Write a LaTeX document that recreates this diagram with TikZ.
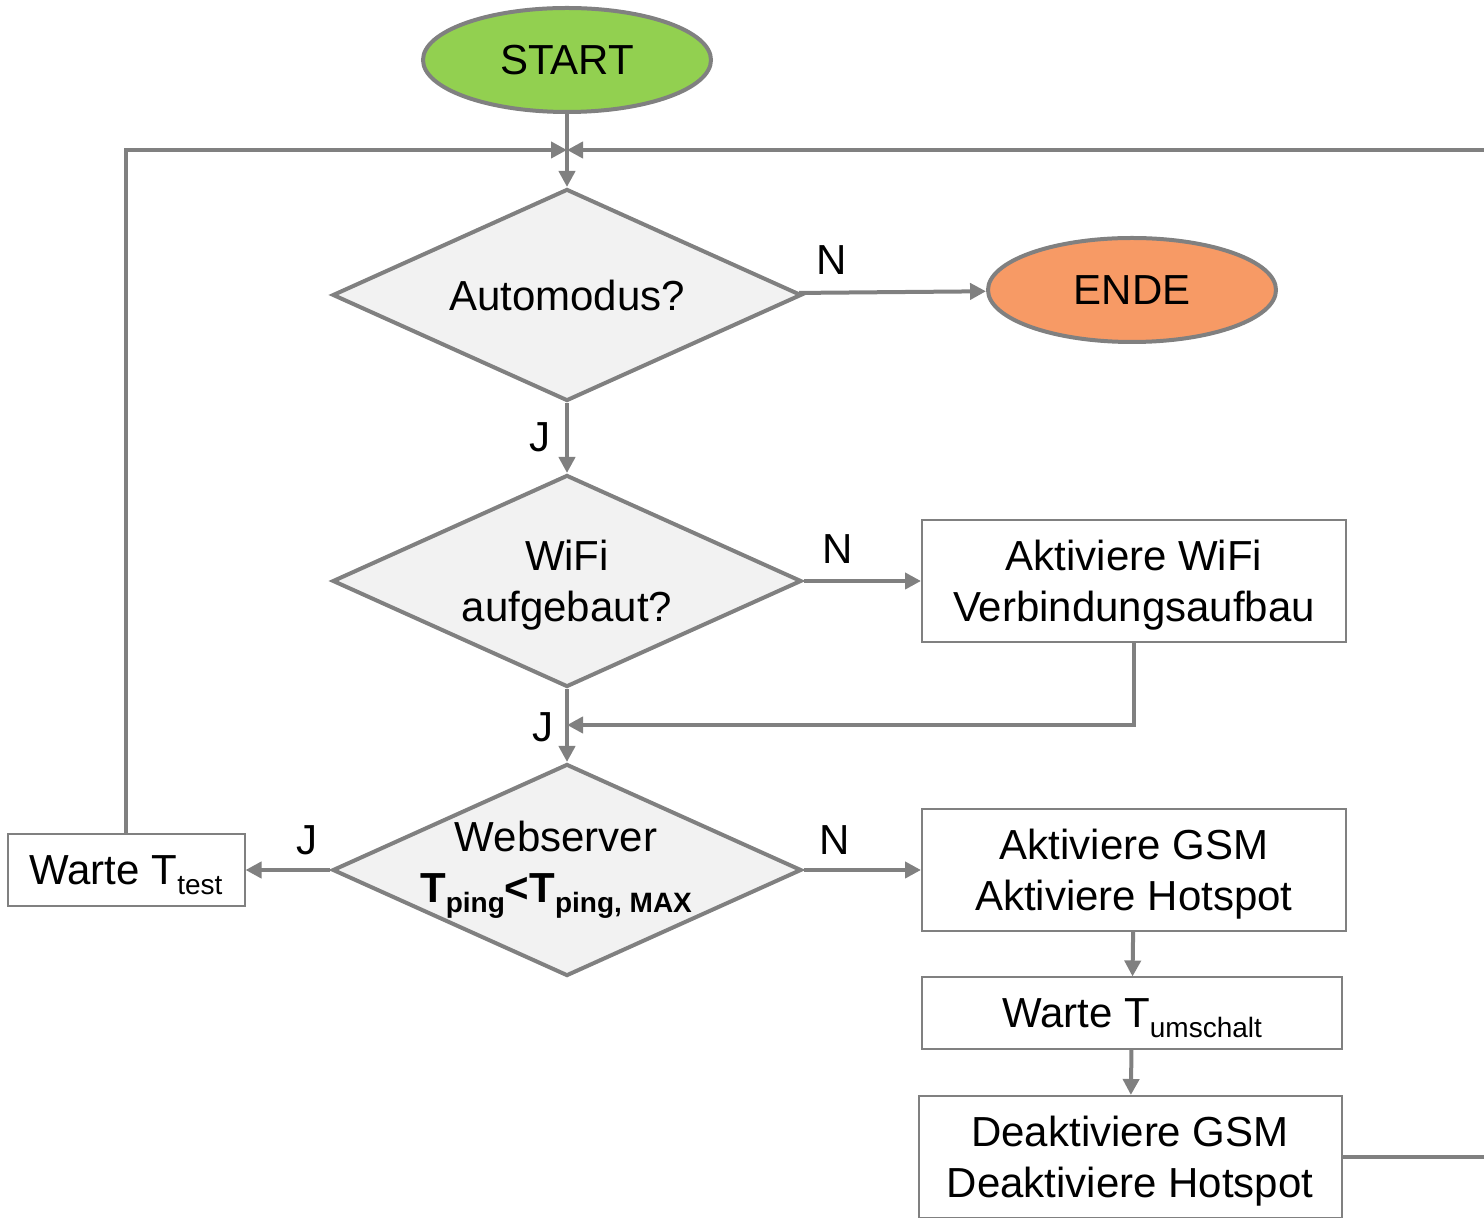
\documentclass[tikz,border=0pt]{standalone}
\usepackage{fontspec}
\setmainfont{Liberation Sans}
\usetikzlibrary{shapes.geometric, arrows.meta}
\definecolor{linegray}{RGB}{128,128,128}
\definecolor{startgreen}{RGB}{146,208,80}
\definecolor{endeorange}{RGB}{247,154,101}
\definecolor{decfill}{RGB}{242,242,242}
\newcommand{\fsz}{\fontsize{21}{25.5}\selectfont}
\newcommand{\idx}[1]{\raisebox{-5pt}{\fontsize{14}{14}\selectfont #1}}
\tikzstyle{startstop} = [ellipse, minimum width=144pt, minimum height=52pt, text centered, draw=linegray, line width=2pt, font=\fsz]
\tikzstyle{process} = [rectangle, minimum width=212pt, minimum height=61pt, text centered, text depth=0pt, align=center, draw=linegray, line width=1pt, font=\fsz]
\tikzstyle{decision} = [diamond, aspect=2.21, minimum width=234.5pt, minimum height=106pt, inner sep=0pt, text centered, align=center, draw=linegray, fill=decfill, line width=2pt, font=\fsz]
\tikzstyle{lbl} = [font=\fsz, inner sep=0pt]
\tikzstyle{arrow} = [line width=2pt, draw=linegray, -{Triangle[length=8pt,width=8pt]}]

\begin{document}
\begin{tikzpicture}[x=0.5pt, y=-0.5pt]
\useasboundingbox (0,0) rectangle (1484,1218);
\clip (0,0) rectangle (1484,1218);

\node (start) [startstop, fill=startgreen] at (567,60) {START};
\node (auto) [decision] at (567,295) {Automodus?};
\node (ende) [startstop, fill=endeorange] at (1132,290) {ENDE};
\node (wifi) [decision, text depth=0pt] at (567,581) {WiFi\\aufgebaut?};
\node (wifiauf) [process] at (1134,581) {Aktiviere WiFi\\Verbindungsaufbau};
\node (web) [decision, inner xsep=-18pt] at (567,870) {Webserver\hspace*{11pt}\\\textbf{T\idx{ping}<T\idx{ping, MAX}}\hspace*{11pt}};
\node (wartetest) [process, minimum width=118.5pt, minimum height=36pt] at (126,870) {Warte T\idx{test}};
\node (gsm) [process] at (1134,870) {Aktiviere GSM\\Aktiviere Hotspot};
\node (warteum) [process, minimum width=210pt, minimum height=35.5pt] at (1132,1013) {Warte T\idx{umschalt}};
\node (deakt) [process, minimum width=211.5pt] at (1130,1157) {Deaktiviere GSM\\Deaktiviere Hotspot};

\coordinate (merge) at (567,150);
\coordinate (joinw) at (567,725);
\coordinate (loopr) at (1510,150);

\node (nauto) [lbl] at (832,260) {N};
\node (jauto) [lbl] at (540,437) {J};
\node (nwifi) [lbl] at (838,549) {N};
\node (jwifi) [lbl] at (543,727) {J};
\node (jweb) [lbl] at (307,840) {J};
\node (nweb) [lbl] at (835,840) {N};

\draw [arrow] (start) -- (auto);
\draw [arrow] (auto) -- (ende);
\draw [arrow] (auto) -- (wifi);
\draw [arrow] (wifi) -- (wifiauf);
\draw [arrow] (wifi) -- (web);
\draw [arrow] (wifiauf.south) |- (joinw);
\draw [arrow] (web) -- (wartetest);
\draw [arrow] (web) -- (gsm);
\draw [arrow] (gsm) -- (warteum);
\draw [arrow] (warteum) -- (deakt);
\draw [arrow] (wartetest.north) |- (merge);
\draw [arrow] (deakt.east) -| (loopr) |- (merge);

\end{tikzpicture}
\end{document}
